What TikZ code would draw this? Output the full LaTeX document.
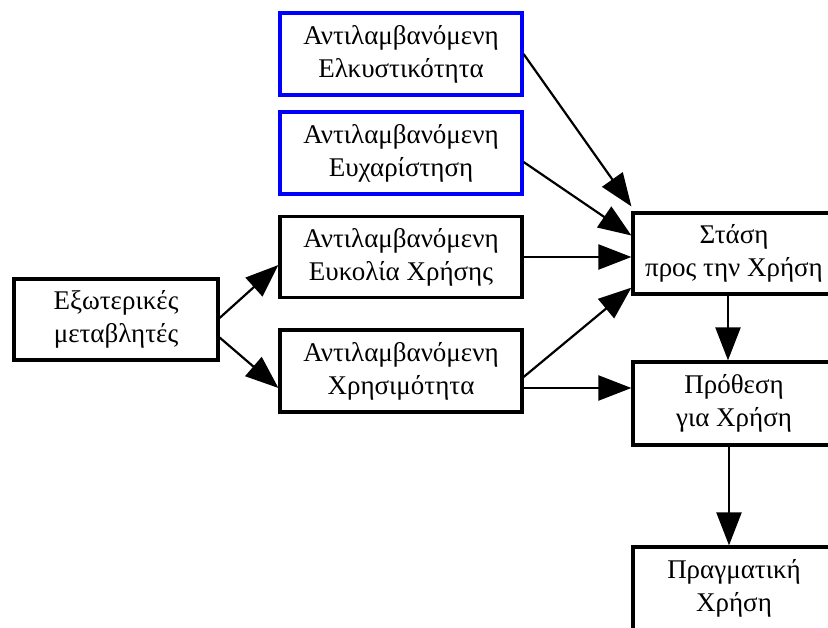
\documentclass[tikz,border=0pt]{standalone}
\usepackage{fontspec}
\setmainfont{Liberation Serif}
\usetikzlibrary{arrows.meta}
\tikzset{
  box/.style={draw=black, line width=3.2pt, fill=white, align=center, inner sep=0pt,
    font=\fontsize{27}{33}\selectfont},
  bluebox/.style={box, draw=blue},
  conn/.style={line width=2.2pt, -{Triangle[length=33pt,width=25pt]}},
}
\begin{document}
\begin{tikzpicture}[x=1pt,y=-1pt]
\useasboundingbox (0,0) rectangle (828,628);
\node[bluebox, minimum width=242pt, minimum height=82pt] (e1) at (401,54) {Αντιλαμβανόμενη\\Ελκυστικότητα};
\node[bluebox, minimum width=242pt, minimum height=82pt] (e2) at (401,153) {Αντιλαμβανόμενη\\Ευχαρίστηση};
\node[box, minimum width=242pt, minimum height=81pt] (eu) at (401,257) {Αντιλαμβανόμενη\\Ευκολία Χρήσης};
\node[box, minimum width=242pt, minimum height=82pt] (xr) at (401,371) {Αντιλαμβανόμενη\\Χρησιμότητα};
\node[box, minimum width=204pt, minimum height=81pt] (ex) at (116,319.5) {Εξωτερικές\\μεταβλητές};
\node[box, minimum width=202pt, minimum height=81pt] (st) at (734,253.5) {Στάση\\προς την Χρήση};
\node[box, minimum width=202pt, minimum height=83pt] (pt) at (734,403.5) {Πρόθεση\\για Χρήση};
\node[box, minimum width=202pt, minimum height=83pt] (pg) at (734,588.5) {Πραγματική\\Χρήση};

\draw[conn] (e1.east) -- ([yshift=5pt]st.north west);
\draw[conn] ([yshift=-9pt]e2.east) -- ([yshift=18pt]st.west);
\draw[conn] (eu.east) -- (eu.east -| st.west);
\draw[conn] ([yshift=-6pt]xr.east) -- ([yshift=8pt]st.south west);
\draw[conn] ([yshift=-17pt]xr.east) -- ([yshift=-17pt]xr.east -| pt.west);
\draw[conn] ([yshift=1.5pt]ex.east) -- ([yshift=-8pt]eu.west);
\draw[conn] ([yshift=-18pt]ex.east) -- ([yshift=-17pt]xr.west);
\draw[conn] ([xshift=-6pt]st.south) -- ([xshift=-6pt]pt.north);
\draw[conn] ([xshift=-5pt]pt.south) -- ([xshift=-5pt]pg.north);
\end{tikzpicture}
\end{document}
